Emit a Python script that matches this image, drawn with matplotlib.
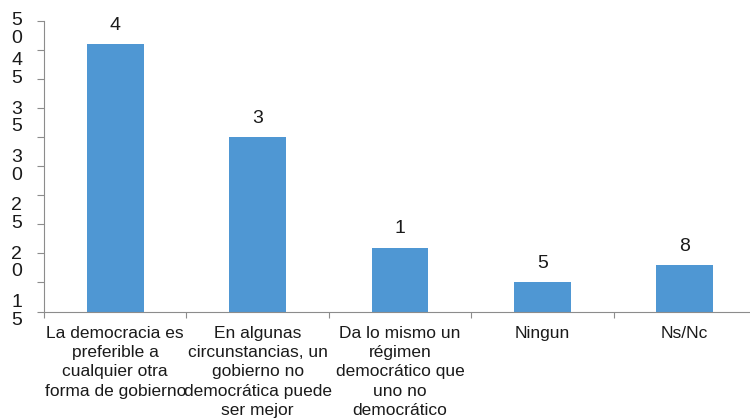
import numpy as np
import matplotlib
matplotlib.use("Agg")
import matplotlib.pyplot as plt
from matplotlib.ticker import FixedLocator

# ---- data ----
categories = [
    "La democracia es\npreferible a\ncualquier otra\nforma de gobierno",
    "En algunas\ncircunstancias, un\ngobierno no\ndemocrática puede\nser mejor",
    "Da lo mismo un\nrégimen\ndemocrático que\nuno no\ndemocrático",
    "Ningun",
    "Ns/Nc",
]
values = [46, 30, 11, 5, 8]
value_labels = ["4", "3", "1", "5", "8"]
ytick_values = [0, 5, 10, 15, 20, 25, 30, 35, 40, 45, 50]
ylabel_texts = ["15", "20", "25", "30", "35", "45", "50"]

bar_color = "#4F97D3"
text_color = "#1a1a1a"
axis_color = "#8c8c8c"

plt.rcParams['font.family'] = ['Liberation Sans', 'DejaVu Sans']

fig = plt.figure(figsize=(7.5, 4.2), dpi=100)
ax = fig.add_axes([44 / 750, 108.5 / 420, 712 / 750, 290.5 / 420])

x = np.arange(len(categories))
ax.bar(x, values, width=0.4, color=bar_color, zorder=2)

for xi, v, lab in zip(x, values, value_labels):
    ax.annotate(lab, (xi, v), xytext=(0, 13.5), textcoords="offset points",
                ha="center", va="center", fontsize=14, color=text_color)

ax.set_xlim(-0.5, len(categories) - 0.5)
ax.set_ylim(0, 50)

# x axis: labels at centres, tick marks at category boundaries
ax.set_xticks(x)
ax.set_xticklabels(categories, fontsize=12.5, color=text_color, linespacing=1.35,
                   va="top", ha="center")
ax.tick_params(axis="x", which="major", length=0, pad=10.5)
ax.xaxis.set_minor_locator(FixedLocator(np.arange(len(categories) + 1) - 0.5))
ax.tick_params(axis="x", which="minor", length=4, color=axis_color, width=0.8)

# y axis: tick marks every 5, garbled stacked labels spread evenly
ax.set_yticks(ytick_values)
ax.set_yticklabels([])
ax.tick_params(axis="y", which="major", length=5, color=axis_color, width=0.8)
label_pos = np.linspace(0, 50, len(ylabel_texts))
label_pos[-1] = 48.5
for pos, txt in zip(label_pos, ylabel_texts):
    ax.annotate("\n".join(txt), (0, pos), xycoords=ax.get_yaxis_transform(),
                xytext=(-19.5, 0), textcoords="offset points",
                ha="center", va="center", fontsize=14, color=text_color,
                linespacing=1.05, annotation_clip=False)

for side in ["top", "right"]:
    ax.spines[side].set_visible(False)
ax.spines["left"].set_color(axis_color)
ax.spines["bottom"].set_color(axis_color)
ax.spines["left"].set_linewidth(0.8)
ax.spines["bottom"].set_linewidth(0.8)

fig.savefig("out.png", dpi=100)
